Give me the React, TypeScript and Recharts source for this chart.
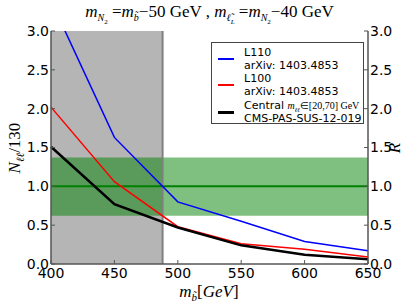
import {
    Line,
    LineChart,
    ReferenceArea,
    ReferenceLine,
    XAxis,
    YAxis,
} from "recharts";

const MASSES = [400, 450, 500, 550, 600, 650];
const L110 = [3.39, 1.63, 0.8, 0.55, 0.29, 0.17];
const L100 = [2.02, 1.06, 0.48, 0.26, 0.19, 0.09];
const CENTRAL = [1.51, 0.77, 0.47, 0.24, 0.12, 0.06];

const X_TICKS = [400, 450, 500, 550, 600, 650];
const Y_TICKS = [0, 0.5, 1, 1.5, 2, 2.5, 3];

const EXCLUDED_MAX = 488;
const BAND_LOW = 0.62;
const BAND_HIGH = 1.37;

const data = MASSES.map((m, i) => ({
    m,
    l110: L110[i],
    l100: L100[i],
    central: CENTRAL[i],
}));

const TICK_FONT = { fontFamily: "DejaVu Sans", fontSize: 14, fill: "#000" };
const MATH = "Liberation Serif";
const FRAME = "#555";

const LegendBox = () => {
    const rows = [
        { color: "blue", width: 1.5, l1: "L110", l2: "arXiv: 1403.4853" },
        { color: "red", width: 1.5, l1: "L100", l2: "arXiv: 1403.4853" },
        { color: "black", width: 3, l1: null, l2: "CMS-PAS-SUS-12-019" },
    ];
    return (
        <div
            style={{
                position: "absolute",
                top: 42,
                left: 211,
                width: 153,
                height: 82,
                border: "1px solid #444",
                background: "#fff",
                fontFamily: "DejaVu Sans",
                fontSize: 11,
                lineHeight: "11px",
                boxSizing: "border-box",
                padding: "3px 0 0 0",
                whiteSpace: "nowrap",
            }}
        >
            {rows.map((r, i) => (
                <div
                    key={i}
                    style={{
                        display: "flex",
                        alignItems: "center",
                        height: i === 2 ? 28 : 26,
                    }}
                >
                    <div
                        style={{
                            width: 16,
                            height: r.width,
                            background: r.color,
                            marginLeft: 6,
                            marginRight: 10,
                        }}
                    />
                    <div>
                        <div style={{ height: 13 }}>
                            {r.l1 ?? (
                                <span>
                                    Central{" "}
                                    <span style={{ fontFamily: MATH, fontSize: 10 }}>
                                        <i>m</i>
                                        <sub style={{ fontSize: 6, lineHeight: 0 }}>
                                            <i>ℓℓ</i>
                                        </sub>
                                        ∈[20,70] GeV
                                    </span>
                                </span>
                            )}
                        </div>
                        <div>{r.l2}</div>
                    </div>
                </div>
            ))}
        </div>
    );
};

const App = () => {
    return (
        <div style={{ position: "relative", width: 409, height: 307 }}>
            <style>{"body{margin:0}"}</style>
            <LineChart
                width={409}
                height={307}
                data={data}
                margin={{ top: 31, right: 0, bottom: 0, left: 0 }}
            >
                <XAxis
                    xAxisId="bottom"
                    dataKey="m"
                    type="number"
                    domain={[400, 650]}
                    ticks={X_TICKS}
                    height={43}
                    tickSize={-4}
                    tickMargin={8}
                    tick={TICK_FONT}
                    axisLine={{ stroke: FRAME, strokeWidth: 1.5 }}
                    tickLine={{ stroke: FRAME }}
                    label={{
                        content: () => (
                            <text
                                x={209}
                                y={297}
                                textAnchor="middle"
                                fontFamily={MATH}
                                fontSize={17}
                            >
                                <tspan fontStyle="italic">m</tspan>
                                <tspan fontStyle="italic" fontSize={11} dy={4}>
                                    b̃
                                </tspan>
                                <tspan dy={-4}>[</tspan>
                                <tspan fontStyle="italic">GeV</tspan>
                                <tspan>]</tspan>
                            </text>
                        ),
                    }}
                />
                <XAxis
                    xAxisId="top"
                    dataKey="m"
                    type="number"
                    orientation="top"
                    domain={[400, 650]}
                    ticks={X_TICKS}
                    height={0}
                    tickSize={-4}
                    tickFormatter={() => ""}
                    axisLine={{ stroke: FRAME, strokeWidth: 1.5 }}
                    tickLine={{ stroke: FRAME }}
                />
                <YAxis
                    yAxisId="left"
                    domain={[0, 3]}
                    ticks={Y_TICKS}
                    allowDataOverflow
                    width={51}
                    tickSize={-4}
                    tickMargin={6}
                    tick={TICK_FONT}
                    tickFormatter={(v: number) => v.toFixed(1)}
                    axisLine={{ stroke: FRAME, strokeWidth: 1.5 }}
                    tickLine={{ stroke: FRAME }}
                    label={{
                        content: () => (
                            <text
                                x={0}
                                y={0}
                                transform="translate(20,148) rotate(-90)"
                                textAnchor="middle"
                                fontFamily={MATH}
                                fontSize={17}
                            >
                                <tspan fontStyle="italic">N</tspan>
                                <tspan fontStyle="italic" fontSize={11} dy={4}>
                                    ℓℓ
                                </tspan>
                                <tspan dy={-4}>/130</tspan>
                            </text>
                        ),
                    }}
                />
                <YAxis
                    yAxisId="right"
                    orientation="right"
                    domain={[0, 3]}
                    ticks={Y_TICKS}
                    allowDataOverflow
                    width={41}
                    tickSize={-4}
                    tickMargin={6}
                    tick={TICK_FONT}
                    tickFormatter={(v: number) => v.toFixed(1)}
                    axisLine={{ stroke: FRAME, strokeWidth: 1.5 }}
                    tickLine={{ stroke: FRAME }}
                    label={{
                        content: () => (
                            <text
                                x={0}
                                y={0}
                                transform="translate(400,148) rotate(-90)"
                                textAnchor="middle"
                                fontFamily={MATH}
                                fontSize={17}
                                fontStyle="italic"
                            >
                                R
                            </text>
                        ),
                    }}
                />
                <ReferenceArea
                    xAxisId="bottom"
                    yAxisId="left"
                    x1={400}
                    x2={EXCLUDED_MAX}
                    y1={0}
                    y2={3}
                    fill="#b5b5b5"
                    fillOpacity={1}
                    stroke="none"
                />
                <ReferenceLine
                    xAxisId="bottom"
                    yAxisId="left"
                    x={EXCLUDED_MAX}
                    stroke="#808080"
                    strokeWidth={2}
                />
                <ReferenceArea
                    xAxisId="bottom"
                    yAxisId="right"
                    y1={BAND_LOW}
                    y2={BAND_HIGH}
                    fill="green"
                    fillOpacity={0.5}
                    stroke="none"
                />
                <ReferenceLine
                    xAxisId="bottom"
                    yAxisId="right"
                    y={1}
                    stroke="green"
                    strokeWidth={2}
                />
                <Line
                    xAxisId="bottom"
                    yAxisId="left"
                    dataKey="l110"
                    stroke="blue"
                    strokeWidth={1.5}
                    dot={false}
                    isAnimationActive={false}
                />
                <Line
                    xAxisId="bottom"
                    yAxisId="left"
                    dataKey="l100"
                    stroke="red"
                    strokeWidth={1.5}
                    dot={false}
                    isAnimationActive={false}
                />
                <Line
                    xAxisId="bottom"
                    yAxisId="right"
                    dataKey="central"
                    stroke="black"
                    strokeWidth={2.5}
                    dot={false}
                    isAnimationActive={false}
                />
            </LineChart>
            <LegendBox />
            <div
                style={{
                    position: "absolute",
                    top: 2,
                    left: 0,
                    width: 419,
                    textAlign: "center",
                    fontFamily: MATH,
                    fontSize: 17,
                    whiteSpace: "nowrap",
                }}
            >
                <i>m</i>
                <sub style={{ fontSize: 10 }}>
                    <i>N</i>
                    <sub style={{ fontSize: 7 }}>2</sub>
                </sub>
                {" "}=<i>m</i>
                <sub style={{ fontSize: 10 }}>
                    <i>b̃</i>
                </sub>
                −50 GeV , <i>m</i>
                <sub style={{ fontSize: 10 }}>
                    <i>ℓ̃</i>
                    <sub style={{ fontSize: 7 }}>
                        <i>L</i>
                    </sub>
                </sub>
                {" "}=<i>m</i>
                <sub style={{ fontSize: 10 }}>
                    <i>N</i>
                    <sub style={{ fontSize: 7 }}>2</sub>
                </sub>
                −40 GeV
            </div>
        </div>
    );
};

export default App;
